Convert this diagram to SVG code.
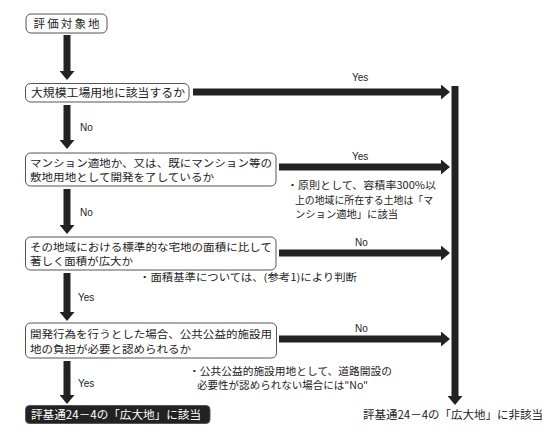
<svg xmlns="http://www.w3.org/2000/svg" width="550" height="442" viewBox="0 0 550 442">
<style>
.bg{fill:#ffffff}
.box{fill:#ffffff;stroke:#555555;stroke-width:1}
.term{fill:#222222;stroke:#555555;stroke-width:1}
.t{font-family:"Noto Sans CJK JP","Noto Sans",sans-serif;font-size:11.5px;fill:#222222}
.t2{font-family:"Noto Sans CJK JP","Noto Sans",sans-serif;font-size:10.5px;fill:#222222}
.tw{font-family:"Noto Sans CJK JP","Noto Sans",sans-serif;font-size:11.5px;fill:#ffffff}
.n{font-family:"Noto Sans CJK JP","Noto Sans",sans-serif;font-size:10px;fill:#222222}
.lab{font-family:"Liberation Sans","Noto Sans",sans-serif;font-size:10px;fill:#222222}
.sh{stroke:#222222;stroke-width:7;fill:none}
</style>
<defs>
<marker id="ah" markerUnits="userSpaceOnUse" markerWidth="9" markerHeight="15" viewBox="0 0 9 15" refX="0" refY="7.5" orient="auto">
<path d="M0,0 L9,7.5 L0,15 Z" fill="#222222"/>
</marker>
</defs>
<rect class="bg" x="0" y="0" width="550" height="442"/>

<g id="connectors">
<line class="sh" x1="67" y1="35" x2="67" y2="71" marker-end="url(#ah)"/>
<line class="sh" x1="67" y1="105" x2="67" y2="140" marker-end="url(#ah)"/>
<line class="sh" x1="67" y1="189" x2="67" y2="225" marker-end="url(#ah)"/>
<line class="sh" x1="67" y1="273" x2="67" y2="312" marker-end="url(#ah)"/>
<line class="sh" x1="67" y1="361" x2="67" y2="395" marker-end="url(#ah)"/>
<line class="sh" x1="193" y1="92" x2="441" y2="92" marker-end="url(#ah)"/>
<line class="sh" x1="279" y1="167" x2="441" y2="167" marker-end="url(#ah)"/>
<line class="sh" x1="279" y1="253" x2="441" y2="253" marker-end="url(#ah)"/>
<line class="sh" x1="279" y1="339" x2="441" y2="339" marker-end="url(#ah)"/>
<line class="sh" x1="455" y1="86" x2="455" y2="396" stroke-width="6" marker-end="url(#ah)"/>
<text class="lab" x="80" y="131">No</text>
<text class="lab" x="80" y="216">No</text>
<text class="lab" x="78" y="301">Yes</text>
<text class="lab" x="78" y="387">Yes</text>
<text class="lab" x="352" y="81">Yes</text>
<text class="lab" x="352" y="160">Yes</text>
<text class="lab" x="355" y="246">No</text>
<text class="lab" x="355" y="332">No</text>
</g>

<g id="start">
<rect class="box" x="26" y="14" width="81" height="19" rx="5"/>
<text class="t" x="66.5" y="28" text-anchor="middle" textLength="66" lengthAdjust="spacing">評価対象地</text>
</g>

<g id="q1">
<rect class="box" x="25.5" y="83.5" width="163.5" height="18.5" rx="5"/>
<text class="t" x="31" y="97" textLength="154" lengthAdjust="spacingAndGlyphs">大規模工場用地に該当するか</text>
</g>

<g id="q2">
<rect class="box" x="25.5" y="153" width="250.5" height="33" rx="5"/>
<text class="t2" x="30" y="167" textLength="242" lengthAdjust="spacingAndGlyphs">マンション適地か、又は、既にマンション等の</text>
<text class="t2" x="30" y="181" textLength="184" lengthAdjust="spacingAndGlyphs">敷地用地として開発を了しているか</text>
</g>

<g id="note1">
<text class="n" x="287" y="189" textLength="149" lengthAdjust="spacingAndGlyphs">・原則として、容積率300%以</text>
<text class="n" x="295" y="203.5" textLength="138" lengthAdjust="spacingAndGlyphs">上の地域に所在する土地は「マ</text>
<text class="n" x="295" y="218" textLength="103" lengthAdjust="spacingAndGlyphs">ンション適地」に該当</text>
</g>

<g id="q3">
<rect class="box" x="25.5" y="237" width="250.5" height="33" rx="5"/>
<text class="t2" x="30" y="251" textLength="242" lengthAdjust="spacingAndGlyphs">その地域における標準的な宅地の面積に比して</text>
<text class="t2" x="30" y="265" textLength="103" lengthAdjust="spacingAndGlyphs">著しく面積が広大か</text>
</g>

<g id="note2">
<text class="n" x="139" y="281" textLength="218" lengthAdjust="spacingAndGlyphs">・面積基準については、(参考1)により判断</text>
</g>

<g id="q4">
<rect class="box" x="25.5" y="323" width="251" height="35" rx="5"/>
<text class="t2" x="30" y="337.5" textLength="242" lengthAdjust="spacingAndGlyphs">開発行為を行うとした場合、公共公益的施設用</text>
<text class="t2" x="30" y="353" textLength="161" lengthAdjust="spacingAndGlyphs">地の負担が必要と認められるか</text>
</g>

<g id="note3">
<text class="n" x="189" y="374.5" textLength="203" lengthAdjust="spacingAndGlyphs">・公共公益的施設用地として、道路開設の</text>
<text class="n" x="197" y="389" textLength="171" lengthAdjust="spacingAndGlyphs">必要性が認められない場合には"No"</text>
</g>

<g id="result-yes">
<rect class="term" x="25.5" y="405.5" width="184.5" height="18" rx="4"/>
<text class="tw" x="31" y="419" textLength="170" lengthAdjust="spacingAndGlyphs">評基通24－4の「広大地」に該当</text>
</g>

<g id="result-no">
<text class="t" x="363" y="419" textLength="180" lengthAdjust="spacingAndGlyphs">評基通24－4の「広大地」に非該当</text>
</g>
</svg>
